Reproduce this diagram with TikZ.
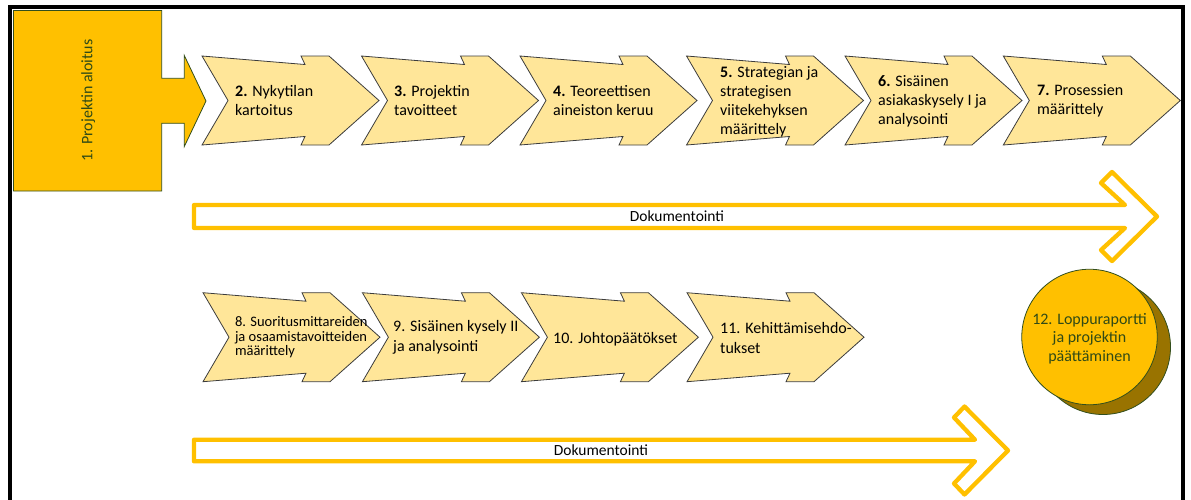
\documentclass[tikz,border=0pt]{standalone}
\usepackage{fontspec}
\setmainfont{Carlito}
\definecolor{gold}{RGB}{255,192,0}
\definecolor{chevfill}{RGB}{255,230,153}
\definecolor{chevline}{RGB}{60,60,60}
\definecolor{olivetext}{RGB}{48,74,22}
\definecolor{oliveline}{RGB}{50,78,28}
\definecolor{shadowgold}{RGB}{153,115,0}
% one chevron step, top-left corner at (#1,#2)
\newcommand{\chevstep}[2]{%
  \draw[chevbox, shift={(#1,#2)}] (0,0) -- (103,8.5) -- (99,0) -- (127,0)
    -- (177,44.5) -- (127,89) -- (99,89) -- (103,80.5) -- (0,89) -- (26,44.5) -- cycle;}
\begin{document}
\begin{tikzpicture}[x=1pt,y=-1pt,
  chevbox/.style={fill=chevfill, draw=chevline, line width=0.8pt, line join=miter},
  steptext/.style={anchor=west, align=left, inner sep=0pt, text=black,
    font=\fontsize{16}{19}\selectfont},
  steptextb/.style={anchor=west, align=left, inner sep=0pt, text=black,
    font=\fontsize{16}{20}\selectfont},
  docarrow/.style={draw=gold, fill=white, line width=4.3pt, line join=round},
  doctext/.style={inner sep=0pt, text=black, font=\fontsize{15.5}{18}\selectfont}]
\useasboundingbox (0,0) rectangle (1191,499);

% outer frame, open at the bottom
\draw[line width=4pt] (10,520) -- (10,6.5) -- (1183,6.5) -- (1183,520);

% start block with its arrow
\draw[fill=gold, draw=oliveline, line width=0.8pt]
  (13.5,10.5) -- (161.7,10.5) -- (161.7,78.3) -- (184.3,78.3) -- (184.3,55.5)
  -- (206,101) -- (184.3,146.5) -- (184.3,123.3) -- (161.7,123.3) -- (161.7,191)
  -- (13.5,191) -- cycle;
\node[rotate=90, inner sep=0pt, text=olivetext, font=\fontsize{16}{19}\selectfont]
  (s1) at (88.3,100.5) {1. Projektin aloitus};

% first row of steps
\chevstep{202}{56}
\chevstep{361.5}{56}
\chevstep{520}{56}
\chevstep{686.5}{56}
\chevstep{845}{56}
\chevstep{1003.3}{56}
\node[steptext] (s2) at (235,100.5) {\textbf{2.} Nykytilan\\kartoitus};
\node[steptext] (s3) at (394,100.5) {\textbf{3.} Projektin\\tavoitteet};
\node[steptext] (s4) at (553,100.5) {\textbf{4.} Teoreettisen\\aineiston keruu};
\node[steptext] (s5) at (720,101.5) {\textbf{5.} Strategian ja\\strategisen\\viitekehyksen\\määrittely};
\node[steptext] (s6) at (878,101) {\textbf{6.} Sisäinen\\asiakaskysely I ja\\analysointi};
\node[steptext] (s7) at (1037,101) {\textbf{7.} Prosessien\\määrittely};

% documentation arrow under the first row
\draw[docarrow] (194,205) -- (1125,205) -- (1101,183) -- (1112,172) -- (1157,216.5)
  -- (1112,261) -- (1101,250) -- (1125,228) -- (194,228) -- cycle;
\node[doctext] (d1) at (677,216.5) {Dokumentointi};

% second row of steps
\chevstep{203}{292.7}
\chevstep{362.4}{292.7}
\chevstep{521.4}{292.7}
\chevstep{687}{292.7}
\node[steptext, font=\fontsize{14.5}{14.4}\selectfont] (s8) at (234.8,337.3)
  {8. Suoritusmittareiden\\ja osaamistavoitteiden\\määrittely};
\node[steptextb] (s9) at (393,337) {9. Sisäinen kysely II\\ja analysointi};
\node[steptextb] (s10) at (553,339) {10. Johtopäätökset};
\node[steptextb] (s11) at (720,337.5) {11. Kehittämisehdo-\\tukset};

% documentation arrow under the second row
\draw[docarrow] (194,439.7) -- (975,439.7) -- (954,417.5) -- (964.5,406.5) -- (1008,450.5)
  -- (964.5,494.5) -- (954,483.5) -- (975,461.3) -- (194,461.3) -- cycle;
\node[doctext] (d2) at (601,450.5) {Dokumentointi};

% closing report disc with its shadow
\draw[fill=shadowgold, draw=oliveline, line width=0.8pt] (1103,347) circle (67.5);
\node[circle, minimum size=135.5pt, inner sep=0pt, fill=gold, draw=oliveline,
  line width=0.8pt] (s12) at (1089.5,337) {};
\node[align=center, inner sep=0pt, text=olivetext, font=\fontsize{16}{18.5}\selectfont]
  (s12t) at (1089.5,338.7) {12. Loppuraportti\\ja projektin\\päättäminen};
\end{tikzpicture}
\end{document}
